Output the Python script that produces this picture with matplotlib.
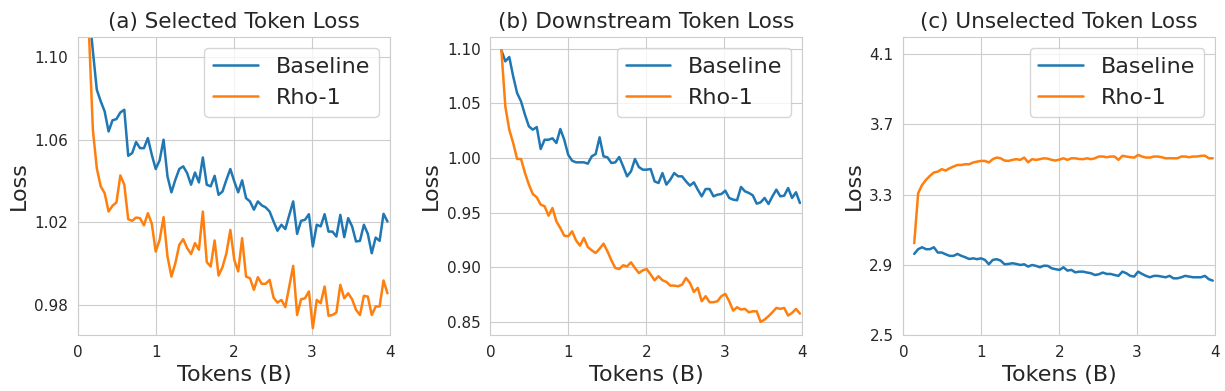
import numpy as np
import matplotlib
matplotlib.use("Agg")
import matplotlib.pyplot as plt
import seaborn as sns

# tokens seen (billions), shared by all curves
tokens = np.linspace(0.14, 3.97, 77)

# (a) selected token loss
sel_base = [1.123, 1.103, 1.0843, 1.0787, 1.0738, 1.0641, 1.0695, 1.0701, 1.0733, 1.0746,
            1.0523, 1.0536, 1.0590, 1.0560, 1.0560, 1.0609, 1.0528, 1.0459, 1.0501, 1.0601,
            1.0423, 1.0346, 1.0407, 1.0459, 1.0472, 1.0439, 1.0383, 1.0442, 1.0394, 1.0515,
            1.0383, 1.0375, 1.0426, 1.0334, 1.0350, 1.0407, 1.0459, 1.0399, 1.0346, 1.0404,
            1.0318, 1.0302, 1.0262, 1.0302, 1.0283, 1.0273, 1.0253, 1.0205, 1.0160, 1.0189,
            1.0168, 1.0236, 1.0302, 1.0145, 1.0208, 1.0213, 1.0240, 1.0084, 1.0189, 1.0181,
            1.0240, 1.0156, 1.0156, 1.0132, 1.0237, 1.0129, 1.0221, 1.0181, 1.0108, 1.0111,
            1.0189, 1.0145, 1.0051, 1.0127, 1.0111, 1.0242, 1.0205]
sel_rho = [1.112, 1.0649, 1.0463, 1.0375, 1.0342, 1.0253, 1.0281, 1.0297, 1.0428, 1.0383,
           1.0216, 1.0208, 1.0224, 1.0221, 1.0186, 1.0245, 1.0194, 1.0059, 1.0116, 1.0226,
           1.0035, 0.9938, 1.0003, 1.0092, 1.0119, 1.0076, 1.0047, 1.0100, 1.0068, 1.0253,
           1.0008, 0.9987, 1.0113, 0.9943, 0.9984, 1.0051, 1.0164, 1.0019, 0.9963, 1.0124,
           0.9938, 0.9930, 0.9874, 0.9935, 0.9903, 0.9903, 0.9922, 0.9836, 0.9812, 0.9825,
           0.9790, 0.9890, 0.9990, 0.9752, 0.9828, 0.9833, 0.9866, 0.9688, 0.9825, 0.9809,
           0.9890, 0.9748, 0.9752, 0.9764, 0.9898, 0.9833, 0.9857, 0.9828, 0.9777, 0.9752,
           0.9845, 0.9841, 0.9752, 0.9793, 0.9793, 0.9919, 0.9857]

# (b) downstream token loss
down_base = [1.0985, 1.0884, 1.0924, 1.0747, 1.0594, 1.0518, 1.0396, 1.0289, 1.0259, 1.0283,
             1.0082, 1.0167, 1.0167, 1.0180, 1.0137, 1.0265, 1.0167, 1.0030, 0.9975, 0.9960,
             0.9960, 0.9960, 0.9948, 1.0015, 1.0036, 1.0189, 1.0015, 1.0006, 0.9954, 0.9960,
             1.0009, 0.9923, 0.9832, 0.9878, 0.9990, 0.9917, 0.9893, 0.9893, 0.9899, 0.9786,
             0.9771, 0.9862, 0.9756, 0.9802, 0.9862, 0.9832, 0.9832, 0.9786, 0.9747, 0.9777,
             0.9710, 0.9649, 0.9716, 0.9716, 0.9649, 0.9664, 0.9670, 0.9701, 0.9634, 0.9619,
             0.9613, 0.9735, 0.9695, 0.9680, 0.9658, 0.9582, 0.9594, 0.9634, 0.9579, 0.9649,
             0.9710, 0.9649, 0.9655, 0.9725, 0.9634, 0.9686, 0.9588]
down_rho = [1.0985, 1.0472, 1.0259, 1.0137, 0.9991, 0.9991, 0.9863, 0.9756, 0.9670, 0.9640,
            0.9573, 0.9558, 0.9472, 0.9542, 0.9420, 0.9359, 0.9289, 0.9283, 0.9329, 0.9246,
            0.9198, 0.9268, 0.9185, 0.9155, 0.9130, 0.9170, 0.9216, 0.9146, 0.9063, 0.8993,
            0.8984, 0.9018, 0.9008, 0.9045, 0.8993, 0.8947, 0.8972, 0.8984, 0.8933, 0.8881,
            0.8918, 0.8881, 0.8866, 0.8832, 0.8832, 0.8826, 0.8841, 0.8902, 0.8857, 0.8774,
            0.8811, 0.8689, 0.8735, 0.8680, 0.8680, 0.8689, 0.8735, 0.8756, 0.8689, 0.8603,
            0.8634, 0.8613, 0.8619, 0.8588, 0.8597, 0.8597, 0.8500, 0.8521, 0.8552, 0.8588,
            0.8628, 0.8619, 0.8628, 0.8558, 0.8582, 0.8619, 0.8576]

# (c) unselected token loss
unsel_base = [2.962, 2.989, 3.000, 2.989, 2.989, 3.000, 2.970, 2.970, 2.960, 2.951,
              2.951, 2.962, 2.951, 2.943, 2.933, 2.937, 2.932, 2.937, 2.928, 2.903,
              2.928, 2.932, 2.924, 2.903, 2.905, 2.909, 2.905, 2.899, 2.903, 2.890,
              2.899, 2.894, 2.886, 2.895, 2.894, 2.880, 2.875, 2.871, 2.886, 2.867,
              2.871, 2.857, 2.861, 2.861, 2.856, 2.852, 2.842, 2.846, 2.856, 2.848,
              2.848, 2.842, 2.837, 2.861, 2.852, 2.837, 2.833, 2.861, 2.848, 2.837,
              2.829, 2.837, 2.837, 2.833, 2.829, 2.837, 2.823, 2.823, 2.829, 2.837,
              2.833, 2.829, 2.829, 2.829, 2.837, 2.818, 2.810]
unsel_rho = [3.023, 3.308, 3.355, 3.384, 3.407, 3.426, 3.431, 3.445, 3.437, 3.450,
             3.460, 3.469, 3.469, 3.473, 3.473, 3.483, 3.488, 3.492, 3.492, 3.483,
             3.502, 3.511, 3.507, 3.494, 3.492, 3.498, 3.502, 3.498, 3.511, 3.484,
             3.502, 3.498, 3.502, 3.507, 3.505, 3.498, 3.494, 3.500, 3.507, 3.498,
             3.507, 3.507, 3.503, 3.502, 3.507, 3.502, 3.507, 3.517, 3.517, 3.513,
             3.517, 3.517, 3.498, 3.521, 3.517, 3.513, 3.511, 3.526, 3.517, 3.511,
             3.511, 3.517, 3.517, 3.513, 3.507, 3.507, 3.507, 3.507, 3.517, 3.517,
             3.513, 3.517, 3.517, 3.521, 3.522, 3.507, 3.507]

titles = ["(a) Selected Token Loss", "(b) Downstream Token Loss", "(c) Unselected Token Loss"]
series = [(sel_base, sel_rho), (down_base, down_rho), (unsel_base, unsel_rho)]
yticks = [[0.98, 1.02, 1.06, 1.10],
          [0.85, 0.90, 0.95, 1.00, 1.05, 1.10],
          [2.5, 2.9, 3.3, 3.7, 4.1]]
ylims = [(0.9655, 1.11), (0.838, 1.111), (2.5, 4.2)]
yfmt = ["%.2f", "%.2f", "%.1f"]

sns.set_style("whitegrid")
plt.rcParams['font.family'] = ['DejaVu Sans']

fig = plt.figure(figsize=(12.25, 3.91), dpi=100)
lefts = [0.0637, 0.4004, 0.7374]

for k in range(3):
    ax = fig.add_axes([lefts[k], 0.1432, 0.2545, 0.763])
    base, rho = series[k]
    ax.plot(tokens, base, color="#1f77b4", lw=1.8, label="Baseline")
    ax.plot(tokens, rho, color="#ff7f0e", lw=1.8, label="Rho-1")
    ax.set_xlim(0, 4)
    ax.set_ylim(*ylims[k])
    ax.set_xticks([0, 1, 2, 3, 4])
    ax.set_yticks(yticks[k])
    ax.set_yticklabels([yfmt[k] % v for v in yticks[k]])
    ax.tick_params(labelsize=11)
    ax.set_title(titles[k], fontsize=15.5)
    ax.set_xlabel("Tokens (B)", fontsize=16)
    ax.set_ylabel("Loss", fontsize=16)
    ax.legend(loc="upper right", fontsize=16)

fig.savefig("out.png", dpi=100)
